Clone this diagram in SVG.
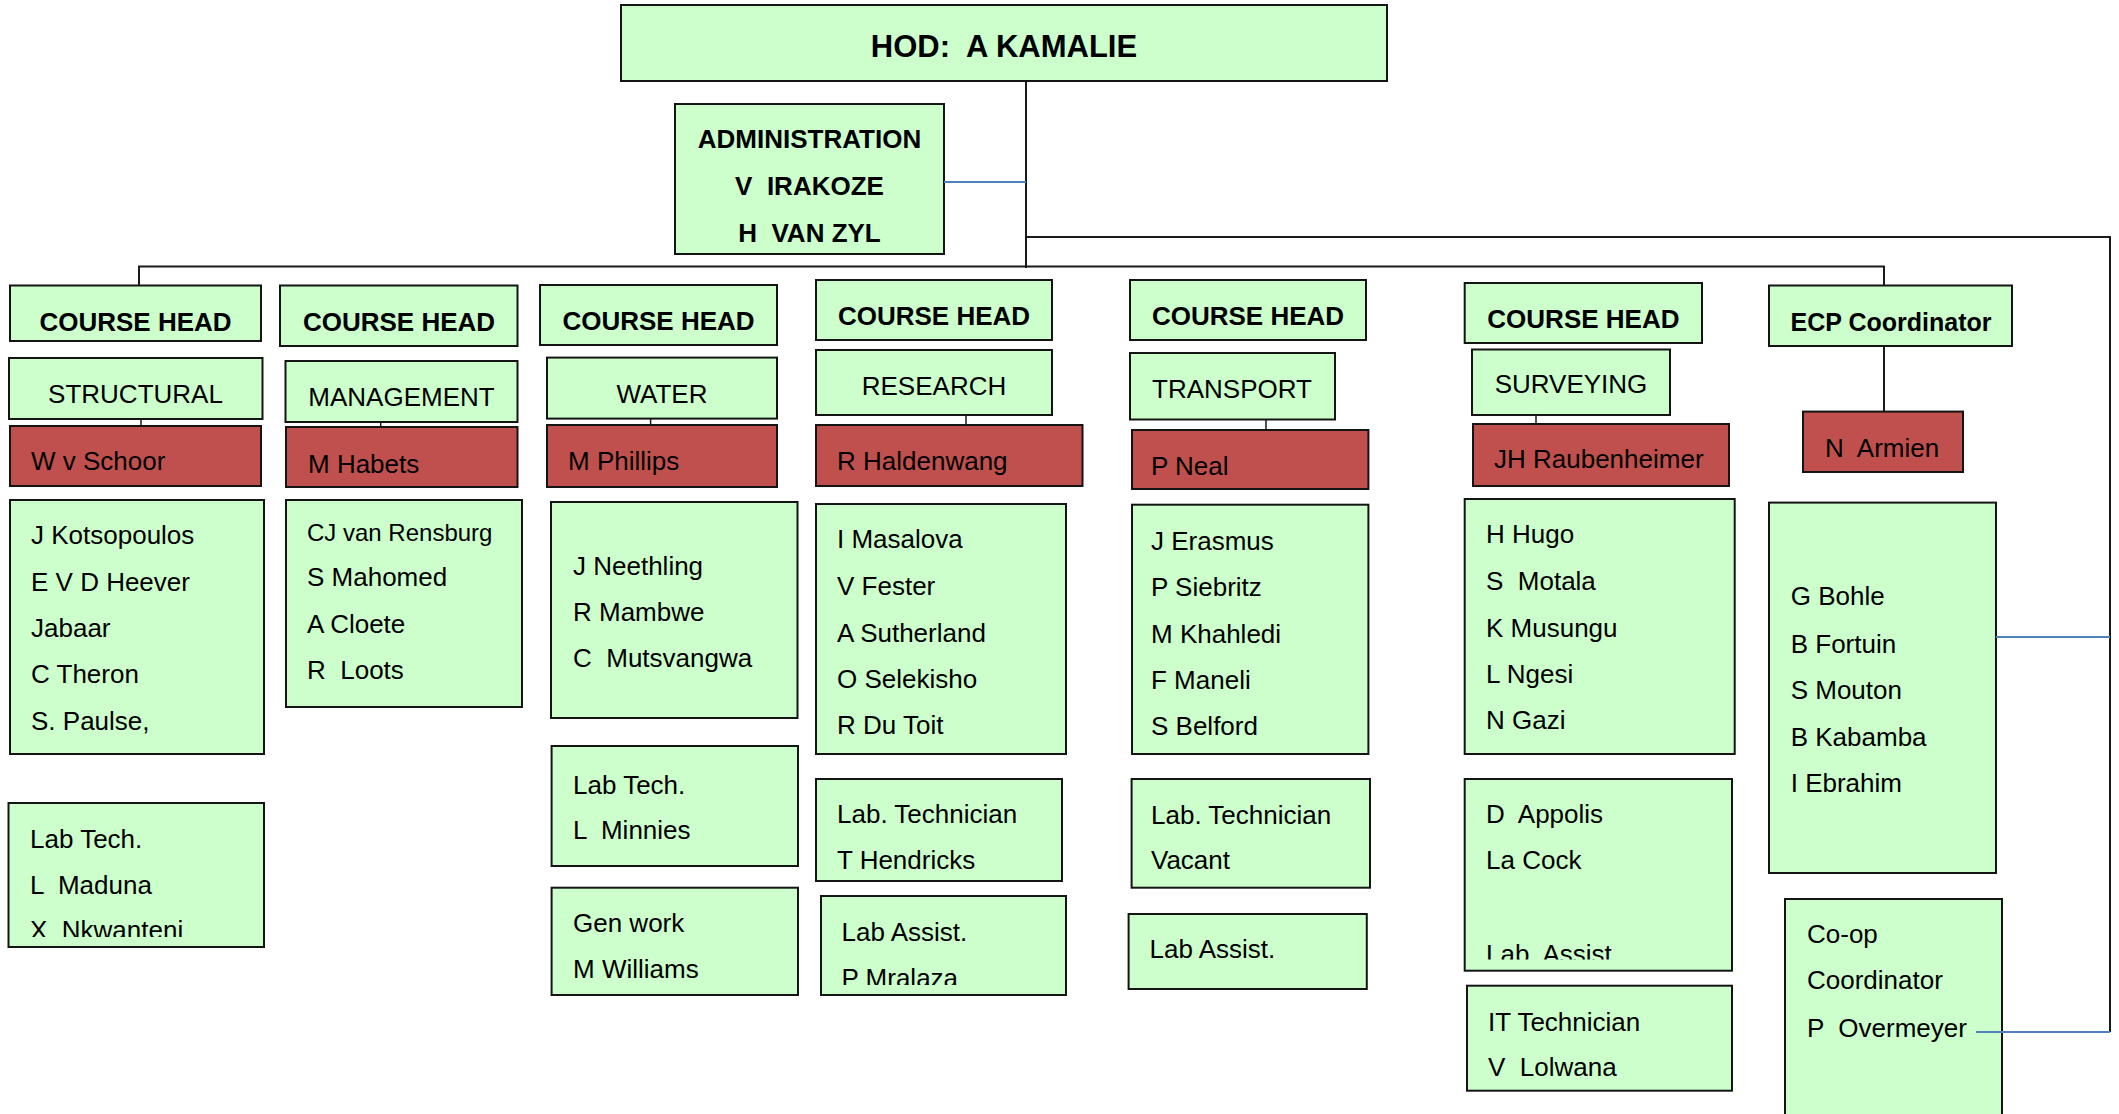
<svg xmlns="http://www.w3.org/2000/svg" width="2119" height="1114" viewBox="0 0 2119 1114">
  <defs>
    <style>
      .box { fill: #ccffcc; stroke: #141414; stroke-width: 2; }
      .red { fill: #c0504d; stroke: #141414; stroke-width: 2; }
      text { font-family: "Liberation Sans", Arial, sans-serif; font-size: 26px; fill: #000; }
      .b { font-weight: bold; }
      .c { text-anchor: middle; }
      .sm { font-size: 24px; }
      .ln { fill: none; stroke: #1a1a1a; stroke-width: 2; }
      .tick { fill: none; stroke: #1a1a1a; stroke-width: 1.5; }
      .blue { fill: none; stroke: #4f81bd; stroke-width: 2; }
    </style>
    <clipPath id="clipLab1"><rect x="0" y="800" width="270" height="137"/></clipPath>
    <clipPath id="clipResAssist"><rect x="815" y="890" width="260" height="95"/></clipPath>
    <clipPath id="clipSurvAssist"><rect x="1460" y="775" width="280" height="184.5"/></clipPath>
  </defs>
  <rect width="2119" height="1114" fill="#ffffff"/>

  <!-- head of department -->
  <g id="hod">
    <rect class="box" x="621" y="5" width="766" height="76"/>
    <text class="b c" x="1004" y="57" style="font-size:31px" xml:space="preserve">HOD:  A KAMALIE</text>
  </g>

  <g id="admin">
    <rect class="box" x="675" y="104" width="269" height="150"/>
    <text class="b c" x="809.5" y="148">ADMINISTRATION</text>
    <text class="b c" x="809.5" y="195" xml:space="preserve">V  IRAKOZE</text>
    <text class="b c" x="809.5" y="242" xml:space="preserve">H  VAN ZYL</text>
  </g>

  <!-- structural -->
  <g id="structural-head">
    <rect class="box" x="10" y="285.5" width="251" height="55.5"/>
    <text class="b c" x="135.5" y="331">COURSE HEAD</text>
  </g>
  <g id="structural">
    <rect class="box" x="9" y="358" width="253.5" height="61"/>
    <text class="c" x="135.5" y="403">STRUCTURAL</text>
  </g>
  <g id="structural-lead">
    <rect class="red" x="10" y="426" width="251" height="60"/>
    <text x="31" y="470">W v Schoor</text>
  </g>
  <g id="structural-staff">
    <rect class="box" x="10" y="500" width="254" height="254"/>
    <text x="31" y="544">J Kotsopoulos</text>
    <text x="31" y="590.5">E V D Heever</text>
    <text x="31" y="637">Jabaar</text>
    <text x="31" y="683">C Theron</text>
    <text x="31" y="729.5">S. Paulse,</text>
  </g>
  <g id="structural-lab">
    <rect class="box" x="8.5" y="803" width="255.5" height="144"/>
    <g clip-path="url(#clipLab1)">
      <text x="30" y="848">Lab Tech.</text>
      <text x="30" y="893.5" xml:space="preserve">L  Maduna</text>
      <text x="30" y="939" xml:space="preserve">X  Nkwanteni</text>
    </g>
  </g>

  <!-- management -->
  <g id="management-head">
    <rect class="box" x="280" y="285.5" width="237.5" height="60.5"/>
    <text class="b c" x="399" y="331">COURSE HEAD</text>
  </g>
  <g id="management">
    <rect class="box" x="285.5" y="361" width="232" height="61"/>
    <text class="c" x="401.5" y="406">MANAGEMENT</text>
  </g>
  <g id="management-lead">
    <rect class="red" x="286" y="427" width="231.5" height="60"/>
    <text x="308" y="473">M Habets</text>
  </g>
  <g id="management-staff">
    <rect class="box" x="286" y="500" width="236" height="207"/>
    <text class="sm" x="307" y="541">CJ van Rensburg</text>
    <text x="307" y="585.7">S Mahomed</text>
    <text x="307" y="633">A Cloete</text>
    <text x="307" y="679" xml:space="preserve">R  Loots</text>
  </g>

  <!-- water -->
  <g id="water-head">
    <rect class="box" x="540" y="285" width="237" height="60"/>
    <text class="b c" x="658.5" y="330">COURSE HEAD</text>
  </g>
  <g id="water">
    <rect class="box" x="547" y="357.6" width="230" height="61"/>
    <text class="c" x="662" y="402.7">WATER</text>
  </g>
  <g id="water-lead">
    <rect class="red" x="547" y="425" width="230" height="62"/>
    <text x="568" y="470">M Phillips</text>
  </g>
  <g id="water-staff">
    <rect class="box" x="551" y="502" width="246.5" height="216"/>
    <text x="573" y="575">J Neethling</text>
    <text x="573" y="620.5">R Mambwe</text>
    <text x="573" y="667.4" xml:space="preserve">C  Mutsvangwa</text>
  </g>
  <g id="water-lab">
    <rect class="box" x="551.6" y="746" width="246.4" height="120"/>
    <text x="573" y="794">Lab Tech.</text>
    <text x="573" y="839" xml:space="preserve">L  Minnies</text>
  </g>
  <g id="water-gen">
    <rect class="box" x="551.6" y="887.7" width="246.4" height="107.3"/>
    <text x="573" y="932">Gen work</text>
    <text x="573" y="978">M Williams</text>
  </g>

  <!-- research -->
  <g id="research-head">
    <rect class="box" x="816" y="280" width="236" height="60"/>
    <text class="b c" x="934" y="324.6">COURSE HEAD</text>
  </g>
  <g id="research">
    <rect class="box" x="816" y="350" width="236" height="65"/>
    <text class="c" x="934" y="394.6">RESEARCH</text>
  </g>
  <g id="research-lead">
    <rect class="red" x="816" y="425" width="266.5" height="61"/>
    <text x="837" y="470">R Haldenwang</text>
  </g>
  <g id="research-staff">
    <rect class="box" x="816" y="504" width="250" height="250"/>
    <text x="837" y="548">I Masalova</text>
    <text x="837" y="595">V Fester</text>
    <text x="837" y="642">A Sutherland</text>
    <text x="837" y="688">O Selekisho</text>
    <text x="837" y="734">R Du Toit</text>
  </g>
  <g id="research-lab">
    <rect class="box" x="816" y="779" width="246" height="102"/>
    <text x="837" y="823">Lab. Technician</text>
    <text x="837" y="869">T Hendricks</text>
  </g>
  <g id="research-assist">
    <rect class="box" x="821" y="896" width="245" height="99"/>
    <g clip-path="url(#clipResAssist)">
      <text x="841.5" y="940.7">Lab Assist.</text>
      <text x="841.5" y="987">P Mralaza</text>
    </g>
  </g>

  <!-- transport -->
  <g id="transport-head">
    <rect class="box" x="1130" y="280" width="236" height="60"/>
    <text class="b c" x="1248" y="325">COURSE HEAD</text>
  </g>
  <g id="transport">
    <rect class="box" x="1130" y="353" width="205" height="66.5"/>
    <text class="c" x="1232" y="398">TRANSPORT</text>
  </g>
  <g id="transport-lead">
    <rect class="red" x="1132" y="430" width="236.4" height="59"/>
    <text x="1151" y="475">P Neal</text>
  </g>
  <g id="transport-staff">
    <rect class="box" x="1132" y="504.7" width="236.4" height="249.3"/>
    <text x="1151" y="550">J Erasmus</text>
    <text x="1151" y="595.6">P Siebritz</text>
    <text x="1151" y="642.5">M Khahledi</text>
    <text x="1151" y="688.7">F Maneli</text>
    <text x="1151" y="735">S Belford</text>
  </g>
  <g id="transport-lab">
    <rect class="box" x="1131.6" y="779" width="238.4" height="108.7"/>
    <text x="1151" y="824">Lab. Technician</text>
    <text x="1151" y="869">Vacant</text>
  </g>
  <g id="transport-assist">
    <rect class="box" x="1128.6" y="914" width="238.2" height="75"/>
    <text x="1149.5" y="958">Lab Assist.</text>
  </g>

  <!-- surveying -->
  <g id="surveying-head">
    <rect class="box" x="1464.7" y="283" width="237.3" height="60"/>
    <text class="b c" x="1583.4" y="328">COURSE HEAD</text>
  </g>
  <g id="surveying">
    <rect class="box" x="1472" y="349.5" width="198" height="65.5"/>
    <text class="c" x="1571" y="393">SURVEYING</text>
  </g>
  <g id="surveying-lead">
    <rect class="red" x="1473" y="424" width="256" height="62"/>
    <text x="1494" y="468">JH Raubenheimer</text>
  </g>
  <g id="surveying-staff">
    <rect class="box" x="1464.7" y="499" width="270" height="255"/>
    <text x="1486" y="543.4">H Hugo</text>
    <text x="1486" y="590" xml:space="preserve">S  Motala</text>
    <text x="1486" y="636.5">K Musungu</text>
    <text x="1486" y="682.7">L Ngesi</text>
    <text x="1486" y="729">N Gazi</text>
  </g>
  <g id="surveying-lab">
    <rect class="box" x="1464.7" y="779" width="267.3" height="191.7"/>
    <g clip-path="url(#clipSurvAssist)">
      <text x="1486" y="823" xml:space="preserve">D  Appolis</text>
      <text x="1486" y="869">La Cock</text>
      <text x="1486" y="962.5">Lab. Assist.</text>
    </g>
  </g>
  <g id="surveying-it">
    <rect class="box" x="1467" y="985.7" width="265" height="105"/>
    <text x="1488" y="1031">IT Technician</text>
    <text x="1488" y="1076" xml:space="preserve">V  Lolwana</text>
  </g>

  <!-- extended curriculum programme -->
  <g id="ecp-head">
    <rect class="box" x="1769" y="285.5" width="243" height="60.5"/>
    <text class="b c" x="1891" y="331" style="font-size:25px">ECP Coordinator</text>
  </g>
  <g id="ecp-lead">
    <rect class="red" x="1803" y="411.6" width="160" height="60.4"/>
    <text x="1825" y="456.7" xml:space="preserve">N  Armien</text>
  </g>
  <g id="ecp-staff">
    <rect class="box" x="1769" y="502.6" width="227" height="370.4"/>
    <text x="1790.7" y="605">G Bohle</text>
    <text x="1790.7" y="652.5">B Fortuin</text>
    <text x="1790.7" y="698.7">S Mouton</text>
    <text x="1790.7" y="745.6">B Kabamba</text>
    <text x="1790.7" y="791.7">I Ebrahim</text>
  </g>
  <g id="coop">
    <rect class="box" x="1785" y="899" width="217" height="230"/>
    <text x="1807" y="943">Co-op</text>
    <text x="1807" y="989">Coordinator</text>
    <text x="1807" y="1036.7" xml:space="preserve">P  Overmeyer</text>
  </g>

  <!-- connectors, drawn last so the co-op link shows over its box -->
  <g id="connectors">
    <path class="ln" d="M1026 81 V268"/>
    <path class="ln" d="M139 285.5 V266.5 H1884 V285.5"/>
    <path class="ln" d="M1026 237 H2110 V1032"/>
    <path class="ln" d="M1884 346 V411.6"/>
    <path class="tick" d="M141 419 V426"/>
    <path class="tick" d="M380.7 422 V427"/>
    <path class="tick" d="M650.6 419 V425"/>
    <path class="tick" d="M966 415 V425"/>
    <path class="tick" d="M1266 419.5 V430"/>
    <path class="tick" d="M1536 415 V424"/>
    <path class="blue" d="M944 182 H1026"/>
    <path class="blue" d="M1996 637 H2110"/>
    <path class="blue" d="M1976 1032 H2110"/>
  </g>
</svg>
